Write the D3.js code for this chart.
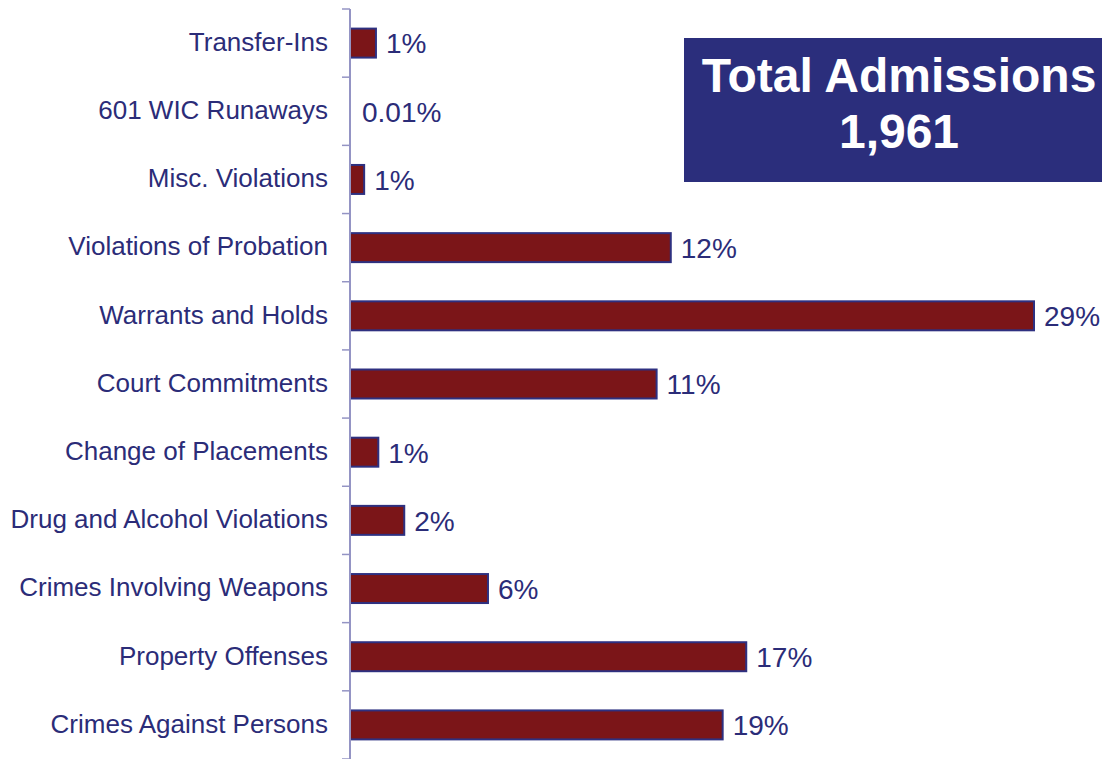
<!DOCTYPE html>
<html>
<head>
<meta charset="utf-8">
<script src="https://cdn.jsdelivr.net/npm/d3@7"></script>
<style>
  body { margin: 0; background: #fff; }
  svg { display: block; font-family: Arial, "Liberation Sans", sans-serif; }
</style>
</head>
<body>
<div id="chart"></div>
<script>
// categories top to bottom
const categories = [
  "Transfer-Ins", "601 WIC Runaways", "Misc. Violations", "Violations of Probation",
  "Warrants and Holds", "Court Commitments", "Change of Placements",
  "Drug and Alcohol Violations", "Crimes Involving Weapons", "Property Offenses",
  "Crimes Against Persons"
];
// bar lengths as drawn (percent units)
const barValues = [1.1, 0.01, 0.6, 13.6, 29, 13.0, 1.2, 2.3, 5.85, 16.8, 15.8];
// printed labels
const valueLabels = ["1%", "0.01%", "1%", "12%", "29%", "11%", "1%", "2%", "6%", "17%", "19%"];
const boxTitle = ["Total Admissions", "1,961"];

const width = 1107;
const height = 759;

const navy = "#2b2c78";

const svg = d3.select("#chart").append("svg")
  .attr("width", width)
  .attr("height", height);

const x = d3.scaleLinear()
  .domain([0, 29])
  .range([350, 1034]);

const y = d3.scaleBand()
  .domain(categories)
  .range([9, 759])
  .paddingInner(0.575)
  .paddingOuter(0.2875);

// bars
svg.selectAll("rect.bar")
  .data(categories)
  .join("rect")
  .attr("class", "bar")
  .attr("x", x(0))
  .attr("y", d => y(d))
  .attr("width", (d, i) => x(barValues[i]) - x(0))
  .attr("height", y.bandwidth())
  .attr("fill", "#7b1518")
  .attr("stroke", "#2e3080")
  .attr("stroke-width", 2)
  .attr("display", (d, i) => barValues[i] < 0.1 ? "none" : null);

// axis line + ticks at band boundaries
const step = y.step();
const bounds = d3.range(categories.length + 1).map(i => 9 + i * step);

svg.append("line")
  .attr("x1", 350).attr("x2", 350)
  .attr("y1", 9).attr("y2", height)
  .attr("stroke", "#9494c4")
  .attr("stroke-width", 2);

svg.selectAll("line.tick")
  .data(bounds)
  .join("line")
  .attr("class", "tick")
  .attr("x1", 342).attr("x2", 350)
  .attr("y1", d => d).attr("y2", d => d)
  .attr("stroke", "#9494c4")
  .attr("stroke-width", 1.5);

// category labels
svg.selectAll("text.cat")
  .data(categories)
  .join("text")
  .attr("class", "cat")
  .attr("x", 328)
  .attr("y", d => y(d) + y.bandwidth() / 2)
  .attr("dy", "0.3em")
  .attr("text-anchor", "end")
  .attr("fill", navy)
  .style("font-size", "26px")
  .text(d => d);

// value labels
svg.selectAll("text.val")
  .data(categories)
  .join("text")
  .attr("class", "val")
  .attr("x", (d, i) => barValues[i] < 0.1 ? 362 : x(barValues[i]) + 10)
  .attr("y", d => y(d) + y.bandwidth() / 2)
  .attr("dy", "0.37em")
  .attr("fill", navy)
  .style("font-size", "28px")
  .text((d, i) => valueLabels[i]);

// total box
svg.append("rect")
  .attr("x", 684).attr("y", 38)
  .attr("width", 418).attr("height", 144)
  .attr("fill", "#2b2e7c");

svg.selectAll("text.box")
  .data(boxTitle)
  .join("text")
  .attr("class", "box")
  .attr("x", 899)
  .attr("y", (d, i) => 92 + i * 55.5)
  .attr("text-anchor", "middle")
  .attr("fill", "#fff")
  .style("font-size", "48px")
  .style("font-weight", "bold")
  .text(d => d);
</script>
</body>
</html>
